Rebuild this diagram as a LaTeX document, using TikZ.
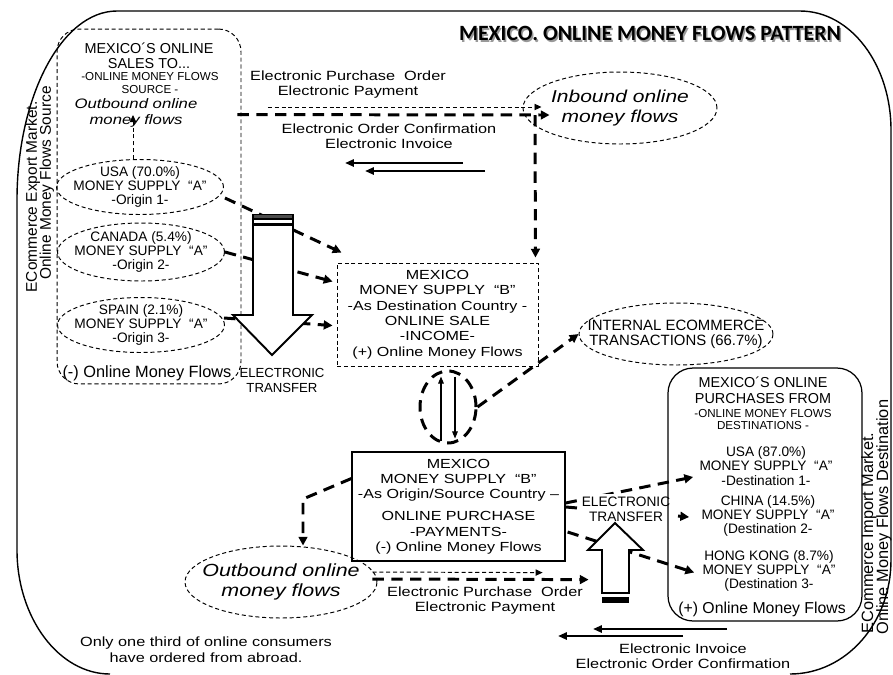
\documentclass[tikz,border=0pt]{standalone}
\usepackage{fontspec}
\setmainfont{Liberation Sans}
\newfontfamily\widesans{Liberation Sans}[FakeStretch=1.22]
\newfontfamily\titlesans{Carlito}
\usetikzlibrary{arrows.meta,positioning,shapes.geometric,calc}

\begin{document}
\begin{tikzpicture}[x=0.02cm, y=-0.02cm,
    thindash/.style={dash pattern=on 2.3pt off 1.6pt, line width=0.55pt},
    bigdash/.style={dash pattern=on 6.5pt off 4.2pt, line width=1.7pt},
    thinflow/.style={thindash, -{Triangle[length=4pt,width=3.6pt]}},
    bigflow/.style={bigdash, -{Triangle[length=5pt,width=5pt]}},
    solidflow/.style={line width=1.3pt, -{Triangle[length=5pt,width=4pt]}},
    pairflow/.style={line width=0.6pt, -{Triangle[length=4pt,width=3.2pt]}},
    flowlbl/.style={align=center, inner sep=0pt, font=\widesans\fontsize{7.6}{8.5}\selectfont},
    ctext/.style={align=center, inner sep=0pt, font=\fontsize{7.8}{8.2}\selectfont},
    smalltext/.style={align=center, inner sep=0pt, font=\fontsize{6.6}{7}\selectfont},
    bigitalic/.style={align=center, inner sep=0pt, font=\widesans\itshape\fontsize{9.8}{11.6}\selectfont},
    srcell/.style={ellipse, draw, thindash, minimum width=3.34cm, minimum height=1.1cm, inner sep=0pt},
    mexbox/.style={draw, align=center, inner sep=0pt, font=\widesans\fontsize{7.5}{8.8}\selectfont},
    transfer/.style={fill=white, draw=black, line width=1.1pt, line join=miter},
    sidelbl/.style={rotate=90, inner sep=0pt, font=\fontsize{8.8}{9}\selectfont}]
  \useasboundingbox (0,0) rectangle (893,674);
  % outer frame
  \draw[line width=0.8pt] (110,674) .. controls (59,674) and (17,618) .. (17,550)
    -- (17,200) .. controls (17,96) and (62,11) .. (117,11)
    -- (800,11) .. controls (851,11) and (891,65) .. (891,130)
    -- (891,560) .. controls (891,623) and (846,674) .. (790,674);

  % title
  \node[text=black!40, font=\titlesans\bfseries\fontsize{12.4}{14}\selectfont] (titleshadow) at (651.5,35) {MEXICO. ONLINE MONEY FLOWS PATTERN};
  \node[font=\titlesans\bfseries\fontsize{12.4}{14}\selectfont] (title) at (650,33.5) {MEXICO. ONLINE MONEY FLOWS PATTERN};

  % side labels
  \node[sidelbl] (exportmkt) at (33,197) {ECommerce Export Market.};
  \node[sidelbl] (exportsrc) at (47,183) {Online Money Flows Source};
  \node[sidelbl, font=\fontsize{9.3}{9.5}\selectfont] (importmkt) at (869,533) {ECommerce Import Market.};
  \node[sidelbl, font=\fontsize{9.3}{9.5}\selectfont] (importdst) at (884,517) {Online Money Flows Destination};

  % sales abroad
  \node[draw, thindash, rounded corners=0.45cm, minimum width=3.68cm, minimum height=7.1cm] (src) at (149,206.5) {};
  \node[align=center, inner sep=0pt, font=\fontsize{8.2}{8.6}\selectfont] (srchead) at (149,56) {MEXICO´S ONLINE\\SALES TO...};
  \node[smalltext] (srcsub) at (150,83) {-ONLINE MONEY FLOWS\\SOURCE -};
  \node[align=center, inner sep=0pt, font=\widesans\itshape\fontsize{7.8}{9}\selectfont] (srcout) at (136,113) {Outbound online\\money flows};
  \node[srcell, label={[ctext]center:{USA (70.0\%)\\MONEY SUPPLY~ “A”\\-Origin 1-}}] (usa) at (140,187) {};
  \node[srcell, minimum height=1.16cm, label={[ctext]center:{CANADA (5.4\%)\\MONEY SUPPLY~ “A”\\-Origin 2-}}] (canada) at (141,252) {};
  \node[srcell, label={[ctext]center:{SPAIN (2.1\%)\\MONEY SUPPLY~ “A”\\-Origin 3-}}] (spain) at (141,325) {};
  \node[inner sep=0pt, font=\fontsize{9.3}{9.5}\selectfont] (srcminus) at (147,373) {(-) Online Money Flows};
  \draw[thinflow] ($(usa.north)+(-7,0)$) -- ($(srcout.center)+(-3,2)$);

  % destination country box
  \node[mexbox, thindash, minimum width=4.02cm, minimum height=2.06cm] (dest) at (437.5,314.5) {MEXICO\\MONEY SUPPLY~ “B”\\-As Destination Country -\\ONLINE SALE\\-INCOME-\\(+) Online Money Flows};
  \draw[bigflow] ($(usa.east)+(1,11)$) -- ($(dest.north west)+(5,-10)$);
  \draw[bigflow] (canada.east) -- ($(dest.north west)+(-4,19)$);
  \draw[bigflow] ($(spain.east)+(-1,-7)$) -- ($(dest.north west)+(-4,63)$);

  % down transfer arrow
  \draw[transfer] (253,225) -- (293,225) -- (293,315) -- (312,315) -- (272,355) -- (233,315) -- (253,315) -- cycle;
  \draw[fill=black!70, line width=0.6pt] (253,214.5) rectangle (293,218.5);
  \draw[fill=white, line width=0.6pt] (253,219.5) rectangle (293,223.5);
  \node[ctext, font=\fontsize{7.5}{8.5}\selectfont] (transferin) at (282,380.5) {ELECTRONIC\\TRANSFER};

  % documents and payments, top
  \node[flowlbl] (epoin) at (348,85) {Electronic Purchase~ Order\\Electronic Payment};
  \node[flowlbl] (eocin) at (389,136) {Electronic Order Confirmation\\Electronic Invoice};
  \node[ellipse, draw, thindash, minimum width=3.88cm, minimum height=1.44cm, label={[bigitalic]center:{Inbound online\\money flows}}] (inbound) at (620,108) {};
  \coordinate (turn) at (535,115);
  \draw[thinflow] ($(epoin.west)+(18,22)$) -- ($(inbound.west)+(19,-1)$);
  \draw[bigflow] ($(src.north east)+(-4,86)$) -- ($(inbound.west)+(27,7)$);
  \draw[bigflow] (turn) -- ($(dest.north east)+(-3,-5)$);
  \coordinate (ackinA) at (463,163);
  \coordinate (ackinB) at (345,163);
  \coordinate (ackinC) at (485,171);
  \coordinate (ackinD) at (365,171);
  \draw[solidflow] (ackinA) -- (ackinB);
  \draw[solidflow] (ackinC) -- (ackinD);

  % internal trade
  \node[ellipse, draw, bigdash, minimum width=1.12cm, minimum height=1.44cm] (loop) at (448,407) {};
  \draw[pairflow] ($(loop.south)+(-7,-3)$) -- ($(loop.north)+(-7,7)$);
  \draw[pairflow] ($(loop.north)+(7,7)$) -- ($(loop.south)+(7,-6)$);
  \node[ellipse, draw, thindash, minimum width=3.88cm, minimum height=1.24cm, label={[align=center, inner sep=0pt, font=\fontsize{8.5}{8.6}\selectfont]center:{INTERNAL ECOMMERCE\\TRANSACTIONS (66.7\%)}}] (internal) at (676,334) {};
  \draw[bigflow] (loop.east) -- (internal.west);

  % origin country box
  \node[mexbox, line width=0.7pt, minimum width=4.26cm, minimum height=2.18cm] (orig) at (458.5,506.5) {MEXICO\\MONEY SUPPLY~ “B”\\-As Origin/Source Country –\\[3.5pt]ONLINE PURCHASE\\-PAYMENTS-\\(-) Online Money Flows};
  \node[ellipse, draw, thindash, minimum width=3.84cm, minimum height=1.44cm, label={[bigitalic, font=\widesans\itshape\fontsize{10}{11.3}\selectfont]center:{Outbound online\\money flows}}] (outbound) at (281,582) {};
  \coordinate (drop) at (303,499);
  \draw[bigflow] ($(orig.west)+(0,-28)$) -- (drop) -- (drop |- outbound.north);

  % documents and payments, bottom
  \node[flowlbl] (epoout) at (485,600.5) {Electronic Purchase~ Order\\Electronic Payment};
  \draw[thinflow] ($(outbound.east)+(-5,-10)$) -- ($(orig.south east)+(-23,11)$);
  \draw[bigflow] ($(outbound.east)+(-5,-3)$) -- ($(orig.south east)+(23,18)$);
  \coordinate (ackoutA) at (727,629);
  \coordinate (ackoutB) at (593,629);
  \coordinate (ackoutC) at (683,636);
  \coordinate (ackoutD) at (558,636);
  \draw[solidflow] (ackoutA) -- (ackoutB);
  \draw[solidflow] (ackoutC) -- (ackoutD);
  \node[flowlbl] (invout) at (683,656.5) {Electronic Invoice\\Electronic Order Confirmation};
  \node[flowlbl, font=\widesans\fontsize{7.6}{9}\selectfont] (note) at (206,650) {Only one third of online consumers\\have ordered from abroad.};

  % payments to destinations
  \node[ctext] (dusa) at (766,466) {USA (87.0\%)\\MONEY SUPPLY~ “A”\\-Destination 1-};
  \node[ctext] (dchina) at (768,516) {CHINA (14.5\%)\\MONEY SUPPLY~ “A”\\(Destination 2-};
  \node[ctext] (dhk) at (769,571) {HONG KONG (8.7\%)\\MONEY SUPPLY~ “A”\\(Destination 3-};
  \draw[bigflow] ($(orig.east)+(0,-3.5)$) -- ($(dusa.west)+(-6,11)$);
  \draw[bigflow] ($(orig.east)+(0,0.5)$) -- ($(dchina.west)+(-12,1)$);
  \draw[bigflow] ($(orig.east)+(2,25.5)$) -- ($(dhk.west)+(-8,1.5)$);
  \node[ctext, fill=white, inner sep=2pt, font=\fontsize{7.8}{8.5}\selectfont] (transferout) at (626,509.5) {ELECTRONIC\\TRANSFER};

  % up transfer arrow
  \draw[transfer] (602,593) -- (602,550) -- (588,550) -- (615,523) -- (643,550) -- (629,550) -- (629,593) -- cycle;
  \fill (602,597) rectangle (629,602.5);

  % purchases abroad
  \node[draw, line width=0.7pt, rounded corners=0.5cm, minimum width=3.88cm, minimum height=5.06cm] (dstbox) at (765,494.5) {};
  \node[align=center, inner sep=0pt, font=\fontsize{8.2}{9}\selectfont] (dsthead) at (763,390) {MEXICO´S ONLINE\\PURCHASES FROM};
  \node[smalltext] (dstsub) at (763,419.5) {-ONLINE MONEY FLOWS\\DESTINATIONS -};
  \node[inner sep=0pt, font=\fontsize{9}{9.5}\selectfont] (dstplus) at (762,609) {(+) Online Money Flows};
\end{tikzpicture}
\end{document}
